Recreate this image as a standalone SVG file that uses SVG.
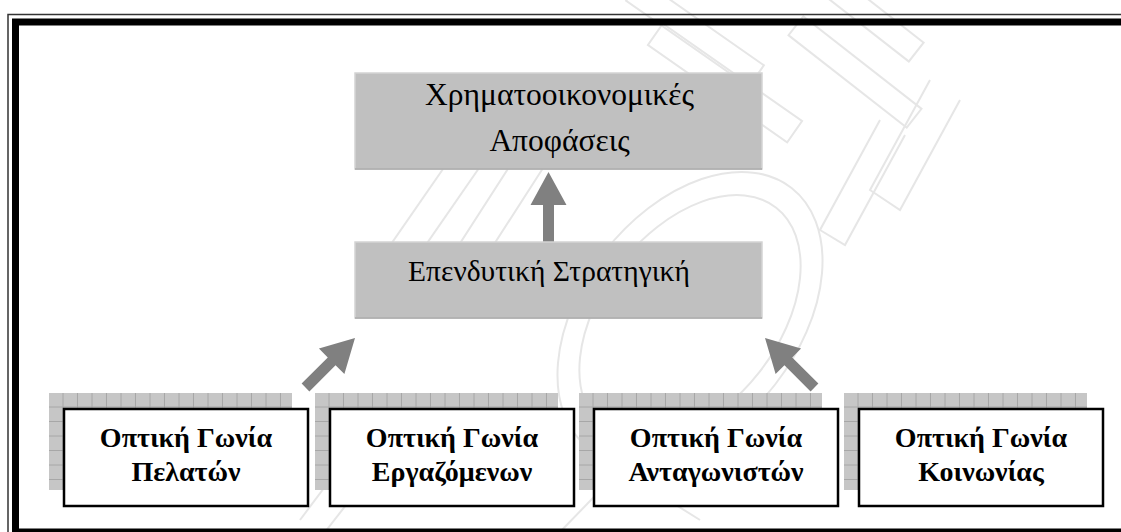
<svg xmlns="http://www.w3.org/2000/svg" width="1121" height="532" viewBox="0 0 1121 532">
  <defs>
    <style>
      .bg { fill: #ffffff; }
      .mark { fill: none; stroke: #e6e6e6; stroke-width: 2; }
      .frame-thin { fill: none; stroke: #333; stroke-width: 1.5; }
      .frame-thick { fill: none; stroke: #000; stroke-width: 7; }
      .gray-box { fill: #c0c0c0; stroke: #d4d4d4; stroke-width: 1.5; }
      .gray-edge { stroke: #a9a9a9; stroke-width: 1.5; }
      .shadow { fill: url(#grid); }
      .card { fill: #ffffff; stroke: #000; stroke-width: 2.5; }
      .t-reg { font-family: "Liberation Serif", "Times New Roman", serif; fill: #000; text-anchor: middle; }
      .t-bold { font-family: "Liberation Serif", "Times New Roman", serif; font-size: 28px; font-weight: bold; fill: #000; text-anchor: middle; }
      .arrow { fill: #808080; }
    </style>
    <!-- tiled grey grid used for the offset shadows of the perspective cards -->
    <pattern id="grid" patternUnits="userSpaceOnUse" width="14.5" height="14.5">
      <rect width="14.5" height="14.5" fill="#c6c6c6"/>
      <path d="M14 0V14.5M0 14H14.5" stroke="#a6a6a6" stroke-width="1"/>
    </pattern>
    <!-- block arrow, tip at origin, pointing up -->
    <polygon id="blockArrow" points="0,0 18,33 5.5,33 5.5,70 -5.5,70 -5.5,33 -18,33"/>
  </defs>

  <rect class="bg" x="0" y="0" width="1121" height="532"/>

  <!-- faint background emblem -->
  <g id="watermark">
    <ellipse class="mark" cx="690" cy="318" rx="165" ry="108" transform="rotate(-52 690 318)"/>
    <ellipse class="mark" cx="690" cy="318" rx="140" ry="88" transform="rotate(-52 690 318)"/>
    <rect class="mark" x="620" y="20" width="150" height="26" transform="rotate(35 695 33)"/>
    <rect class="mark" x="640" y="70" width="170" height="26" transform="rotate(35 725 83)"/>
    <rect class="mark" x="800" y="0" width="130" height="24" transform="rotate(38 865 12)"/>
    <rect class="mark" x="780" y="60" width="150" height="24" transform="rotate(38 855 72)"/>
    <path class="mark" d="M930 80 L870 190 L900 210 L960 100"/>
    <path class="mark" d="M880 120 L820 230 L845 245 L905 135"/>
    <path class="mark" d="M470 130 L380 260 L405 275 L495 145"/>
    <path class="mark" d="M520 150 L430 290 L455 305 L545 165"/>
    <path class="mark" d="M300 520 L360 440 L385 455 L325 532"/>
    <path class="mark" d="M560 532 L620 470 L700 520"/>
  </g>

  <!-- double page frame -->
  <g id="frame">
    <rect class="frame-thin" x="8" y="14.5" width="1200" height="600"/>
    <rect class="frame-thick" x="15.5" y="22" width="1200" height="510"/>
  </g>

  <g id="connectors">
    <use href="#blockArrow" class="arrow" transform="translate(548.5 172)"/>
    <use href="#blockArrow" class="arrow" transform="translate(355 338) rotate(45)"/>
    <use href="#blockArrow" class="arrow" transform="translate(765 338) rotate(-45)"/>
  </g>

  <g id="financial-decisions">
    <rect class="gray-box" x="355" y="73" width="407" height="96"/>
    <line class="gray-edge" x1="355" y1="169" x2="762" y2="169"/>
    <text class="t-reg" x="559.5" y="105" font-size="31.5">Χρηματοοικονομικές</text>
    <text class="t-reg" x="559.5" y="151" font-size="31.5">Αποφάσεις</text>
  </g>

  <g id="investment-strategy">
    <rect class="gray-box" x="355" y="242" width="407" height="76"/>
    <line class="gray-edge" x1="355" y1="318" x2="762" y2="318"/>
    <text class="t-reg" x="549" y="281" font-size="29.5">Επενδυτική Στρατηγική</text>
  </g>

  <g id="customers-view" transform="translate(49 393)">
    <rect class="shadow" x="0" y="0" width="243" height="97"/>
    <rect class="card" x="15" y="16" width="244" height="97"/>
    <text class="t-bold" x="137" y="54">Οπτική Γωνία</text>
    <text class="t-bold" x="137" y="88">Πελατών</text>
  </g>

  <g id="employees-view" transform="translate(315 393)">
    <rect class="shadow" x="0" y="0" width="243" height="97"/>
    <rect class="card" x="15" y="16" width="244" height="97"/>
    <text class="t-bold" x="137" y="54">Οπτική Γωνία</text>
    <text class="t-bold" x="137" y="88">Εργαζόμενων</text>
  </g>

  <g id="competitors-view" transform="translate(579 393)">
    <rect class="shadow" x="0" y="0" width="243" height="97"/>
    <rect class="card" x="15" y="16" width="244" height="97"/>
    <text class="t-bold" x="137" y="54">Οπτική Γωνία</text>
    <text class="t-bold" x="137" y="88">Ανταγωνιστών</text>
  </g>

  <g id="society-view" transform="translate(844 393)">
    <rect class="shadow" x="0" y="0" width="243" height="97"/>
    <rect class="card" x="15" y="16" width="244" height="97"/>
    <text class="t-bold" x="137" y="54">Οπτική Γωνία</text>
    <text class="t-bold" x="137" y="88">Κοινωνίας</text>
  </g>
</svg>
